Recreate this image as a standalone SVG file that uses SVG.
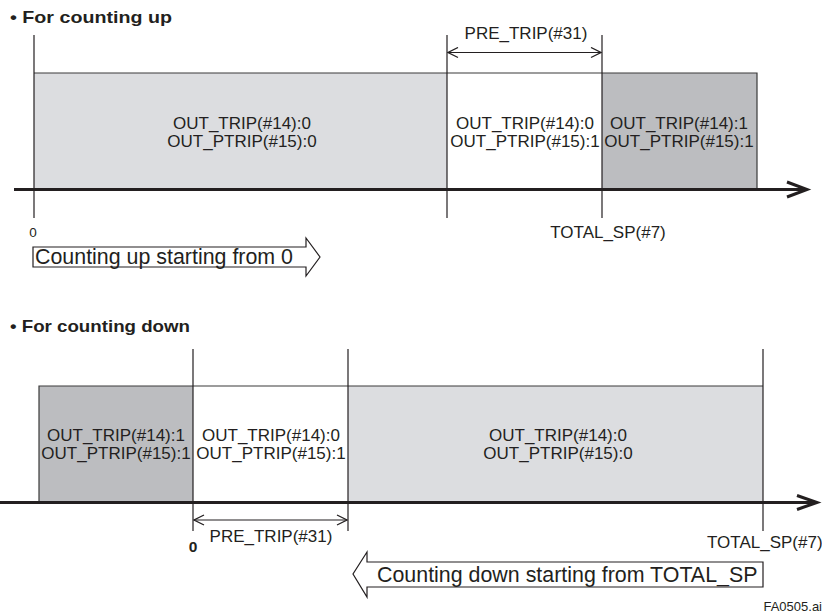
<svg xmlns="http://www.w3.org/2000/svg" width="822" height="615" viewBox="0 0 822 615">
<defs>
<style>
.t{font-family:"Liberation Sans",Arial,sans-serif;fill:#231f20;}
.lbl{font-size:17px;text-anchor:middle;}
.ttl{font-size:16.5px;font-weight:bold;}
.big{font-size:21.4px;}
.light{fill:#dcdde0;stroke:none;}
.dark{fill:#bcbdc0;stroke:none;}
.white{fill:#ffffff;stroke:none;}
.edge{fill:none;stroke:#3a3a3a;stroke-width:1.2;}
.vl{stroke:#231f20;stroke-width:1.2;}
.axis{stroke:#231f20;stroke-width:3;fill:none;}
.dim{stroke:#231f20;stroke-width:1.2;fill:none;}
.fat{fill:#ffffff;stroke:#231f20;stroke-width:1.2;}
</style>
<marker id="open" viewBox="0 0 12 12" refX="11" refY="6" markerWidth="12" markerHeight="12" markerUnits="userSpaceOnUse" orient="auto-start-reverse">
<path d="M1,1 L11,6 L1,11" fill="none" stroke="#231f20" stroke-width="1.3"/>
</marker>
</defs>
<rect width="822" height="615" fill="#ffffff"/>

<!-- Counting up -->
<text class="t ttl" x="10" y="23" textLength="162" lengthAdjust="spacingAndGlyphs">• For counting up</text>

<g id="up-normal">
<rect class="light" x="34" y="73" width="413" height="117"/>
<text class="t lbl" x="242" y="128.5">OUT_TRIP(#14):0</text>
<text class="t lbl" x="242" y="146.5">OUT_PTRIP(#15):0</text>
</g>
<g id="up-pretrip">
<rect class="white" x="447" y="73" width="155" height="117"/>
<text class="t lbl" x="525" y="128.5">OUT_TRIP(#14):0</text>
<text class="t lbl" x="525" y="146.5">OUT_PTRIP(#15):1</text>
</g>
<g id="up-trip">
<rect class="dark" x="602" y="73" width="155" height="117"/>
<text class="t lbl" x="679" y="128.5">OUT_TRIP(#14):1</text>
<text class="t lbl" x="679" y="146.5">OUT_PTRIP(#15):1</text>
</g>
<path class="edge" d="M34,73 H757 V190"/>

<g id="up-labels">
<text class="t" x="33" y="237" font-size="13.5" text-anchor="middle">0</text>
<text class="t lbl" x="608" y="237.5">TOTAL_SP(#7)</text>
<text class="t lbl" x="526" y="39">PRE_TRIP(#31)</text>
</g>

<g id="up-direction">
<polygon class="fat" points="33,247 306,247 306,238 320,257 306,276 306,267 33,267"/>
<text class="t big" x="35" y="263.5">Counting up starting from 0</text>
</g>

<!-- Counting down -->
<text class="t ttl" x="10" y="332" textLength="180" lengthAdjust="spacingAndGlyphs">• For counting down</text>

<g id="down-trip">
<rect class="dark" x="39" y="386" width="154" height="116"/>
<text class="t lbl" x="116" y="441">OUT_TRIP(#14):1</text>
<text class="t lbl" x="116" y="459">OUT_PTRIP(#15):1</text>
</g>
<g id="down-pretrip">
<rect class="white" x="193" y="386" width="155" height="116"/>
<text class="t lbl" x="271" y="441">OUT_TRIP(#14):0</text>
<text class="t lbl" x="271" y="459">OUT_PTRIP(#15):1</text>
</g>
<g id="down-normal">
<rect class="light" x="348" y="386" width="415" height="116"/>
<text class="t lbl" x="558" y="441">OUT_TRIP(#14):0</text>
<text class="t lbl" x="558" y="459">OUT_PTRIP(#15):0</text>
</g>
<path class="edge" d="M39,502 V386 H763"/>

<g id="down-labels">
<text class="t" x="193" y="551.5" font-size="15.5" font-weight="bold" text-anchor="middle">0</text>
<text class="t lbl" x="271" y="542">PRE_TRIP(#31)</text>
<text class="t" x="707" y="547.5" font-size="17">TOTAL_SP(#7)</text>
</g>

<g id="down-direction">
<polygon class="fat" points="763,562 367,562 367,552 353,574 367,597 367,587 763,587"/>
<text class="t big" x="377" y="581.5">Counting down starting from TOTAL_SP</text>
</g>

<text class="t" x="822" y="611" font-size="13" text-anchor="end">FA0505.ai</text>

<g id="connectors">
<line class="vl" x1="34" y1="35" x2="34" y2="218"/>
<line class="vl" x1="447" y1="35" x2="447" y2="218"/>
<line class="vl" x1="602" y1="35" x2="602" y2="218"/>
<line class="axis" x1="14" y1="189.5" x2="806" y2="189.5"/>
<polyline class="axis" points="787,182 807,189.5 787,197"/>
<line class="dim" x1="448" y1="52.5" x2="601" y2="52.5" marker-start="url(#open)" marker-end="url(#open)"/>

<line class="vl" x1="193" y1="349" x2="193" y2="531"/>
<line class="vl" x1="348" y1="349" x2="348" y2="531"/>
<line class="vl" x1="763" y1="349" x2="763" y2="531"/>
<line class="axis" x1="0" y1="502.5" x2="816" y2="502.5"/>
<polyline class="axis" points="797,495.5 817,502.5 797,509.5"/>
<line class="dim" x1="194" y1="520" x2="347" y2="520" marker-start="url(#open)" marker-end="url(#open)"/>
</g>
</svg>
